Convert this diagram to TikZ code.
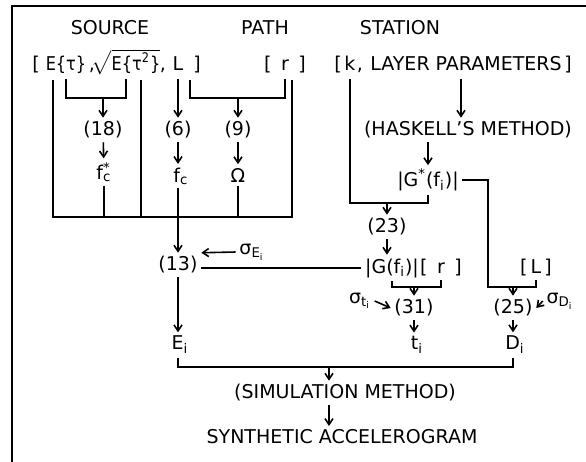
\documentclass[tikz,border=0pt]{standalone}
\usepackage{fontspec}
\setmainfont{DejaVu Sans}
\usetikzlibrary{arrows.meta}

\begin{document}
\begin{tikzpicture}[x=0.5pt,y=-0.5pt,font=\fontsize{9.5}{11}\selectfont,line width=0.8pt]
  \tikzset{
    lbl/.style={inner sep=1.5pt},
    row/.style={lbl,inner xsep=0pt,text height=1.8ex,text depth=0.45ex},
    nar/.style={row,font=\fontsize{9.5}{11}\selectfont\addfontfeatures{FakeStretch=0.85}},
    ar/.style={-{Straight Barb[length=3pt,width=4pt]}}
  }
  \useasboundingbox (0,0) rectangle (586,462);
  \draw (12,462) -- (12,6) -- (586,6);

  \node[lbl] (src) at (110,28) {SOURCE};
  \node[lbl] (pth) at (265,28) {PATH};
  \node[lbl] (stn) at (400,28) {STATION};

  \node[row] (lbA) at (36,63) {[};
  \node[nar] (Etau) at (66,63) {E\{τ\}};
  \node[row] (cmA) at (92,63) {,};
  \node[nar] (sqE) at (126,63) {\(\sqrt{\mbox{E\{τ\textsuperscript{2}\}}}\)};
  \node[row] (cmB) at (163,63) {,};
  \node[row] (Lsrc) at (178,63) {L};
  \node[row] (rbA) at (197,63) {]};
  \node[row] (rpth) at (285,63) {[\enspace r\enspace]};
  \node[row] (lbS) at (338,63) {[};
  \node[row] (kk) at (350,63) {k};
  \node[row] (cmS) at (360,63) {,};
  \node[row] (layer) at (466,63) {LAYER PARAMETERS};
  \node[row] (rbS) at (568,63) {]};

  \node[lbl] (n18) at (103,130) {(18)};
  \node[lbl] (n6) at (178,130) {(6)};
  \node[lbl] (n9) at (238,130) {(9)};
  \node[lbl] (fcs) at (104,172) {f\rlap{\textsuperscript{*}}\textsubscript{c}};
  \node[lbl] (fc) at (181,176) {f\textsubscript{c}};
  \node[lbl] (om) at (238,175) {Ω};

  \node[lbl] (hask) at (468,130) {(HASKELL'S METHOD)};
  \node[lbl] (Gs) at (428,180) {|G\textsuperscript{*}(f\textsubscript{i})|};
  \node[lbl] (n23) at (387,227) {(23)};
  \node[lbl] (G) at (392,268) {|G(f\textsubscript{i})|};
  \node[lbl] (rst) at (441,268) {[\enspace r\enspace]};
  \node[lbl] (Lst) at (536,268) {[\,L\,]};

  \node[lbl] (n13) at (178,265) {(13)};
  \node[lbl] (sigE) at (252,252) {σ\textsubscript{E\textsubscript{i}}};
  \node[lbl] (n31) at (414,308) {(31)};
  \node[lbl] (sigt) at (360,301) {σ\textsubscript{t\textsubscript{i}}};
  \node[lbl] (n25) at (513,308) {(25)};
  \node[lbl] (sigD) at (560,301) {σ\textsubscript{D\textsubscript{i}}};

  \node[lbl] (Ei) at (180,345) {E\textsubscript{i}};
  \node[lbl] (ti) at (417,345) {t\textsubscript{i}};
  \node[lbl] (Di) at (515,345) {D\textsubscript{i}};
  \node[lbl] (sim) at (345,393) {(SIMULATION METHOD)};
  \node[lbl] (syn) at (342,437) {SYNTHETIC ACCELEROGRAM};

  \coordinate (uTL) at (53,80);
  \coordinate (uBL) at (53,217);
  \coordinate (uBR) at (292,217);
  \coordinate (uTR) at (292,80);
  \coordinate (dT) at (141,80);
  \coordinate (b18) at (103,98);
  \coordinate (b9a) at (190,80);
  \coordinate (b9) at (238,98);
  \coordinate (b23) at (387,203);
  \coordinate (b31) at (414,287);
  \coordinate (b25l) at (488,287);
  \coordinate (b25) at (513,287);
  \coordinate (bsim) at (329,367);

  \draw (uTL) -- (uBL) -- (uBR) -- (uTR);
  \draw (dT) -- (dT |- uBL);
  \draw (Etau.south) |- (b18) -| (sqE.south);
  \draw[ar] (b18) -- (n18);
  \draw[ar] (Lsrc) -- (n6);
  \draw (b9a) |- (b9) -| (rpth.south);
  \draw[ar] (b9) -- (n9);
  \draw[ar] (n18) -- (fcs);
  \draw[ar] (n6) -- (n6 |- fc.north);
  \draw[ar] (n9) -- (om);
  \draw (fcs) -- (fcs |- uBL);
  \draw (om) -- (om |- uBL);
  \draw[ar] (fc.south -| n13) -- (n13);
  \draw[ar] (n13) -- (n13 |- Ei.north);
  \draw[ar] (sigE.west) -- (n13.north east);
  \draw (G.west) -- (G.west -| n13.east);

  \draw[ar] (layer.south -| 461,0) -- (461,0 |- hask.north);
  \draw[ar] (Gs.north |- hask.south) -- (Gs.north);
  \draw (kk.south) |- (b23) -| (Gs.south);
  \draw[ar] (b23) -- (n23);
  \draw[ar] (n23) -- (n23 |- G.north);
  \draw (Gs.east) -| (b25l) -| (Lst.south);
  \draw[ar] (b25) -- (n25);
  \draw (G.south) |- (b31) -| (rst.south);
  \draw[ar] (b31) -- (n31);
  \draw[ar] (sigt.east) -- (n31.west);
  \draw[ar] (sigD.west) -- (n25.east);
  \draw[ar] (n31) -- (n31 |- ti.north);
  \draw[ar] (n25) -- (n25 |- Di.north);

  \draw (Ei.south -| n13) |- (bsim) -| (Di.south -| n25);
  \draw (ti.south -| n31) -- (ti.south -| n31 |- bsim);
  \draw[ar] (bsim) -- (bsim |- sim.north);
  \draw[ar] (bsim |- sim.south) -- (bsim |- syn.north);
\end{tikzpicture}
\end{document}
